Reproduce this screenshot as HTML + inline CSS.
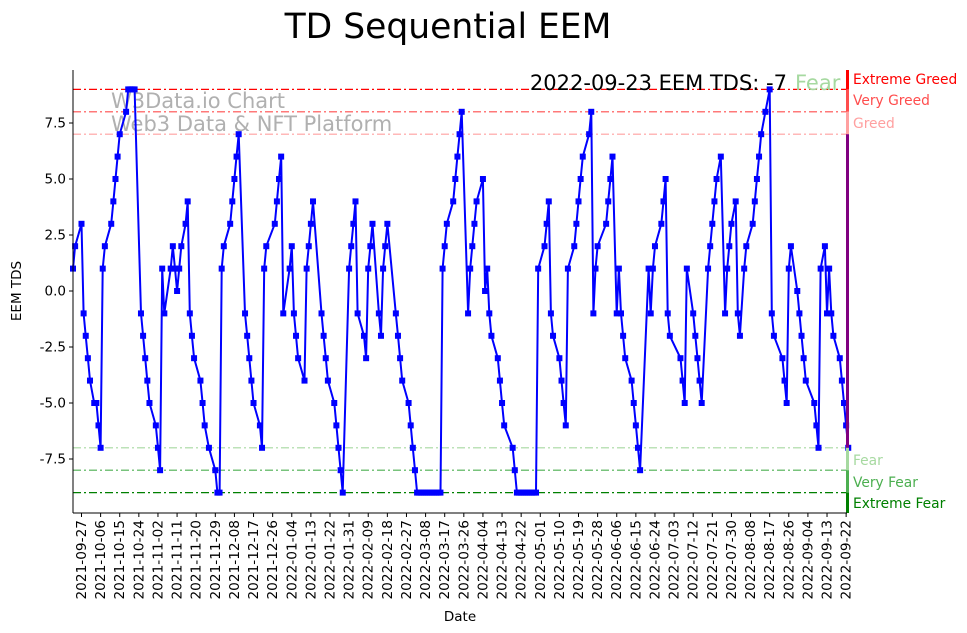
<!DOCTYPE html>
<html><head><meta charset="utf-8"><style>
body{margin:0;background:#fff;}
svg{display:block;font-family:"DejaVu Sans","Liberation Sans",sans-serif;}
</style></head><body>
<svg id="chart" width="967" height="633"></svg>
<script>
// days since 2021-09-23 (trading days) and TD sequential counts
const dayIndex = [0,1,4,5,6,7,8,10,11,12,13,14,15,18,19,20,21,22,25,26,27,28,29,32,33,34,35,36,39,40,41,42,43,46,47,48,49,50,51,53,54,55,56,57,60,61,62,64,67,68,69,70,71,74,75,76,77,78,81,82,83,84,85,88,89,90,91,95,96,97,98,99,102,103,104,105,106,109,110,111,112,113,117,118,119,120,123,124,125,126,127,130,131,132,133,134,137,138,139,140,141,144,145,146,147,148,152,153,154,155,158,159,160,161,162,163,164,165,166,167,168,169,170,171,172,173,174,175,176,179,180,181,182,183,186,187,188,189,190,193,194,195,196,197,200,201,202,203,207,208,209,210,211,212,213,214,215,216,217,218,219,222,223,224,225,226,229,230,231,232,233,236,237,238,239,240,243,244,245,246,247,251,252,253,254,256,257,258,259,260,263,264,265,266,267,271,272,273,274,277,278,279,280,281,286,287,288,289,292,293,294,295,296,299,300,301,302,303,305,307,308,309,310,312,313,314,316,317,320,321,322,323,324,326,328,329,330,334,335,336,337,338,341,342,343,344,345,349,350,351,352,354,355,356,357,358,361,362,363,364,365];
const tdValues = [1,2,3,-1,-2,-3,-4,-5,-5,-6,-7,1,2,3,4,5,6,7,8,9,9,9,9,-1,-2,-3,-4,-5,-6,-7,-8,1,-1,1,2,1,0,1,2,3,4,-1,-2,-3,-4,-5,-6,-7,-8,-9,-9,1,2,3,4,5,6,7,-1,-2,-3,-4,-5,-6,-7,1,2,3,4,5,6,-1,1,2,-1,-2,-3,-4,1,2,3,4,-1,-2,-3,-4,-5,-6,-7,-8,-9,1,2,3,4,-1,-2,-3,1,2,3,-1,-2,1,2,3,-1,-2,-3,-4,-5,-6,-7,-8,-9,-9,-9,-9,-9,-9,-9,-9,-9,-9,-9,-9,1,2,3,4,5,6,7,8,-1,1,2,3,4,5,0,1,-1,-2,-3,-4,-5,-6,-7,-8,-9,-9,-9,-9,-9,-9,-9,-9,-9,-9,1,2,3,4,-1,-2,-3,-4,-5,-6,1,2,3,4,5,6,7,8,-1,1,2,3,4,5,6,-1,1,-1,-2,-3,-4,-5,-6,-7,-8,1,-1,1,2,3,4,5,-1,-2,-3,-4,-5,1,-1,-2,-3,-4,-5,1,2,3,4,5,6,-1,1,2,3,4,-1,-2,1,2,3,4,5,6,7,8,9,-1,-2,-3,-4,-5,1,2,0,-1,-2,-3,-4,-5,-6,-7,1,2,-1,1,-1,-2,-3,-4,-5,-6,-7];
const yTicks = [-7.5,-5.0,-2.5,0.0,2.5,5.0,7.5];
const levelValues = [9,8,7,-7,-8,-9];
const levelNames = ["Extreme Greed","Very Greed","Greed","Fear","Very Fear","Extreme Fear"];
const levelColors = ["#ff0000","#ff4d4d","#ffa0a0","#a6d9a0","#4caf50","#008000"];

const NS="http://www.w3.org/2000/svg";
const svg=document.getElementById('chart');
function mk(tag,attrs,parent){const e=document.createElementNS(NS,tag);for(const k in attrs)e.setAttribute(k,attrs[k]);(parent||svg).appendChild(e);return e;}
const x0=73,pxDay=2.124;
const xs=d=>x0+d*pxDay;
const ys=v=>291-22.4*v;
const L=73,B=513,T=70,R=847;

let t=mk('text',{x:448,y:38,'text-anchor':'middle','font-size':34.5,fill:'#000'});t.textContent='TD Sequential EEM';



levelValues.forEach((v,i)=>{
  const ln=mk('line',{x1:L,x2:R,y1:ys(v),y2:ys(v),stroke:levelColors[i],'stroke-width':1.2,'stroke-dasharray':'8,3,2,3'});
  
  
});

t=mk('text',{x:111,y:108,'font-size':21,fill:'#b0b0b0'});t.textContent='W3Data.io Chart';


t=mk('text',{x:111,y:131,'font-size':21,fill:'#b0b0b0'});t.textContent='Web3 Data & NFT Platform';



const pts=dayIndex.map((d,i)=>xs(d).toFixed(1)+','+ys(tdValues[i]).toFixed(1)).join(' ');
const pl=mk('polyline',{points:pts,fill:'none',stroke:'#0000ff','stroke-width':2});


dayIndex.forEach((d,i)=>{
  const r=mk('rect',{x:xs(d)-3,y:ys(tdValues[i])-3,width:6,height:6,fill:'#0000ff'});
  
  
});

t=mk('text',{x:787,y:90,'text-anchor':'end','font-size':21,fill:'#000'});t.textContent='2022-09-23 EEM TDS: -7';


t=mk('text',{x:795,y:90,'font-size':21,fill:'#a6d9a0'});t.textContent='Fear';



const segs=[[T,ys(9),'#ff0000'],[ys(9),ys(8),'#ff4d4d'],[ys(8),ys(7),'#ffa0a0'],[ys(7),ys(-7),'#800080'],[ys(-7),ys(-8),'#a6d9a0'],[ys(-8),ys(-9),'#4caf50'],[ys(-9),B,'#008000']];
segs.forEach(s=>{const r=mk('rect',{x:846,y:s[0],width:3,height:s[1]-s[0],fill:s[2]});
  
  });
const labelY=[79,100,123,460,482,503];
levelNames.forEach((n,i)=>{const tt=mk('text',{x:853,y:labelY[i]+5,'font-size':13.8,fill:levelColors[i]});tt.textContent=n;
  
  });

let a=mk('line',{x1:L,x2:L,y1:T,y2:B,stroke:'#000','stroke-width':1});


a=mk('line',{x1:L,x2:R,y1:B,y2:B,stroke:'#000','stroke-width':1});


yTicks.forEach(v=>{
  mk('line',{x1:L-4,x2:L,y1:ys(v),y2:ys(v),stroke:'#000'});
  const tt=mk('text',{x:L-7,y:ys(v)+4.5,'text-anchor':'end','font-size':13.5,fill:'#000'});tt.textContent=v.toFixed(1);
  
  
});
const start=new Date(Date.UTC(2021,8,23));
for(let k=0;k<=40;k++){
  const d=4+9*k,x=xs(d);
  mk('line',{x1:x,x2:x,y1:B,y2:B+4,stroke:'#000'});
  const dt=new Date(start.getTime()+d*86400000);
  const s=dt.toISOString().slice(0,10);
  const tt=mk('text',{x:x+4.5,y:B+7,'text-anchor':'end','font-size':13.7,fill:'#000',transform:`rotate(-90 ${x+4.5} ${B+7})`});
  tt.textContent=s;
  
  
}
t=mk('text',{x:460,y:621,'text-anchor':'middle','font-size':13.5,fill:'#000'});t.textContent='Date';


t=mk('text',{x:21,y:291,'text-anchor':'middle','font-size':13.5,fill:'#000',transform:'rotate(-90 21 291)'});t.textContent='EEM TDS';


</script>
</body></html>
